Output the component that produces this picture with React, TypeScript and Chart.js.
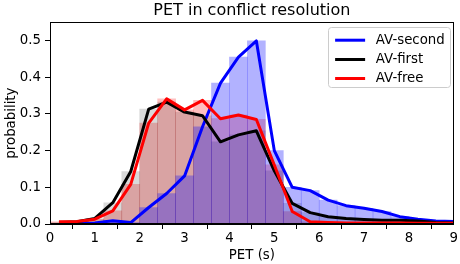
import React, { useEffect, useRef } from 'react';
import { Chart, registerables } from 'chart.js';

Chart.register(...registerables);

const TITLE = 'PET in conflict resolution';
const X_LABEL = 'PET (s)';
const Y_LABEL = 'probability';

// histogram bin centres (bin width 0.4 s)
const BIN_CENTERS = [0.2, 0.6, 1.0, 1.4, 1.8, 2.2, 2.6, 3.0, 3.4, 3.8, 4.2, 4.6, 5.0, 5.4, 5.8, 6.2, 6.6, 7.0, 7.4, 7.8, 8.2, 8.6, 9.0];
const AV_SECOND = [0.0, 0.001, 0.003, 0.009, 0.004, 0.045, 0.083, 0.131, 0.265, 0.384, 0.455, 0.499, 0.2, 0.1, 0.091, 0.065, 0.05, 0.043, 0.034, 0.02, 0.013, 0.008, 0.007];
const AV_FIRST = [0.004, 0.006, 0.015, 0.058, 0.143, 0.313, 0.332, 0.305, 0.295, 0.224, 0.243, 0.254, 0.145, 0.056, 0.031, 0.02, 0.015, 0.012, 0.01, 0.01, 0.008, 0.004, 0.003];
const AV_FREE = [0.006, 0.007, 0.013, 0.036, 0.108, 0.275, 0.341, 0.311, 0.337, 0.287, 0.297, 0.285, 0.161, 0.034, 0.006, 0.004, 0.003, 0.003, 0.003, 0.003, 0.002, 0.002, 0.002];
const SERIES_LABELS = ['AV-second', 'AV-first', 'AV-free'];
const SERIES_COLORS = ['#0000ff', '#000000', '#ff0000'];
const BAR_COLORS = ['rgba(0,0,255,0.3)', 'rgba(0,0,0,0.15)', 'rgba(255,0,0,0.25)'];
const BAR_ORDER = [3, 4, 5];
const X_TICKS = [0, 1, 2, 3, 4, 5, 6, 7, 8, 9];
const Y_TICKS = [0.0, 0.1, 0.2, 0.3, 0.4, 0.5];

const FONT = 'DejaVu Sans';
const FS = 13.33;

const spinesPlugin = {
  id: 'spines',
  afterDatasetsDraw(chart: any) {
    const { ctx, chartArea } = chart;
    ctx.save();
    ctx.strokeStyle = '#000';
    ctx.lineWidth = 1;
    const l = Math.round(chartArea.left) + 0.5;
    const r = Math.round(chartArea.right) - 0.5;
    const t = Math.round(chartArea.top) + 0.5;
    const b = Math.round(chartArea.bottom) - 0.5;
    ctx.strokeRect(l, t, r - l, b - t);
    ctx.restore();
  },
};

const legendPlugin = {
  id: 'boxLegend',
  afterDraw(chart: any) {
    const { ctx, chartArea } = chart;
    ctx.save();
    ctx.font = `${FS}px "${FONT}"`;
    const textW = Math.max(...SERIES_LABELS.map((s) => ctx.measureText(s).width));
    const padL = 7;
    const padR = 6;
    const handle = 30;
    const gap = 10.7;
    const w = padL + handle + gap + textW + padR;
    const h = 61;
    const right = chartArea.right - 3;
    const left = right - w;
    const top = chartArea.top + 5;
    ctx.beginPath();
    const rad = 3;
    const x0 = Math.round(left) + 0.5;
    const y0 = Math.round(top) + 0.5;
    const x1 = Math.round(right) - 0.5;
    const y1 = Math.round(top + h) - 0.5;
    ctx.moveTo(x0 + rad, y0);
    ctx.lineTo(x1 - rad, y0);
    ctx.arcTo(x1, y0, x1, y0 + rad, rad);
    ctx.lineTo(x1, y1 - rad);
    ctx.arcTo(x1, y1, x1 - rad, y1, rad);
    ctx.lineTo(x0 + rad, y1);
    ctx.arcTo(x0, y1, x0, y1 - rad, rad);
    ctx.lineTo(x0, y0 + rad);
    ctx.arcTo(x0, y0, x0 + rad, y0, rad);
    ctx.closePath();
    ctx.fillStyle = 'rgba(255,255,255,0.8)';
    ctx.fill();
    ctx.strokeStyle = '#cccccc';
    ctx.lineWidth = 1;
    ctx.stroke();
    const rows = [13, 32.3, 51.3];
    SERIES_LABELS.forEach((label, i) => {
      const cy = top + rows[i];
      ctx.beginPath();
      ctx.strokeStyle = SERIES_COLORS[i];
      ctx.lineWidth = 3;
      ctx.lineCap = 'butt';
      ctx.moveTo(left + padL, cy);
      ctx.lineTo(left + padL + handle, cy);
      ctx.stroke();
      ctx.fillStyle = '#000';
      ctx.textBaseline = 'middle';
      ctx.textAlign = 'left';
      ctx.fillText(label, left + padL + handle + gap, cy + 0.5);
    });
    ctx.restore();
  },
};

export default function App() {
  const ref = useRef<HTMLCanvasElement | null>(null);

  useEffect(() => {
    if (!ref.current) return;
    const series = [AV_SECOND, AV_FIRST, AV_FREE];
    const toPts = (vals: number[]) => BIN_CENTERS.map((x, i) => ({ x, y: vals[i] }));
    const lineSets = series.map((vals, i) => ({
      type: 'line' as const,
      label: SERIES_LABELS[i],
      data: toPts(vals),
      borderColor: SERIES_COLORS[i],
      backgroundColor: SERIES_COLORS[i],
      borderWidth: 3,
      pointRadius: 0,
      tension: 0,
      fill: false,
      borderJoinStyle: 'round' as const,
      borderCapStyle: 'butt' as const,
      order: 2 - i,
    }));
    const barSets = series.map((vals, i) => ({
      type: 'bar' as const,
      label: SERIES_LABELS[i] + ' hist',
      data: toPts(vals),
      backgroundColor: BAR_COLORS[i],
      borderWidth: 0,
      barPercentage: 1,
      categoryPercentage: 1,
      grouped: false,
      order: BAR_ORDER[i],
    }));

    const chart = new Chart(ref.current, {
      type: 'bar',
      data: { datasets: [...lineSets, ...barSets] as any },
      plugins: [spinesPlugin, legendPlugin],
      options: {
        animation: false,
        responsive: false,
        devicePixelRatio: 1,
        font: { family: FONT, size: FS },
        layout: { padding: { left: 0, right: 5, top: 0, bottom: 0 } },
        plugins: {
          legend: { display: false },
          tooltip: { enabled: false },
          title: {
            display: true,
            text: TITLE,
            fullSize: false,
            color: '#000',
            font: { family: FONT, size: 16, weight: 'normal' },
            padding: { top: 1, bottom: 2 },
          },
        },
        scales: {
          x: {
            type: 'linear',
            min: 0,
            max: 9,
            offset: false,
            afterBuildTicks: (scale: any) => {
              scale.ticks = X_TICKS.map((v) => ({ value: v }));
            },
            afterFit: (scale: any) => {
              scale.height = 40;
            },
            ticks: {
              color: '#000',
              font: { family: FONT, size: FS },
              padding: 2,
              maxRotation: 0,
              autoSkip: false,
              callback: (v: any) => String(v),
            },
            grid: {
              display: true,
              drawOnChartArea: false,
              drawTicks: true,
              tickLength: 5,
              color: '#000',
              tickWidth: 1,
            },
            border: { display: true, color: '#000', width: 1 },
            title: {
              display: true,
              text: X_LABEL,
              color: '#000',
              font: { family: FONT, size: FS },
              padding: { top: 0, bottom: 0 },
            },
          },
          y: {
            type: 'linear',
            min: 0,
            max: 0.55,
            afterBuildTicks: (scale: any) => {
              scale.ticks = Y_TICKS.map((v) => ({ value: v }));
            },
            afterFit: (scale: any) => {
              scale.width = 50;
            },
            ticks: {
              color: '#000',
              font: { family: FONT, size: FS },
              padding: 4,
              autoSkip: false,
              callback: (v: any) => Number(v).toFixed(1),
            },
            grid: {
              display: true,
              drawOnChartArea: false,
              drawTicks: true,
              tickLength: 5,
              color: '#000',
              tickWidth: 1,
            },
            border: { display: true, color: '#000', width: 1 },
            title: {
              display: true,
              text: Y_LABEL,
              color: '#000',
              font: { family: FONT, size: FS },
              padding: { top: 4, bottom: 0 },
            },
          },
        },
      } as any,
    });
    return () => chart.destroy();
  }, []);

  return (
    <div style={{ position: 'absolute', left: 0, top: 0, width: 460, height: 264, background: '#fff' }}>
      <canvas ref={ref} width={460} height={264} style={{ display: 'block' }} />
    </div>
  );
}
